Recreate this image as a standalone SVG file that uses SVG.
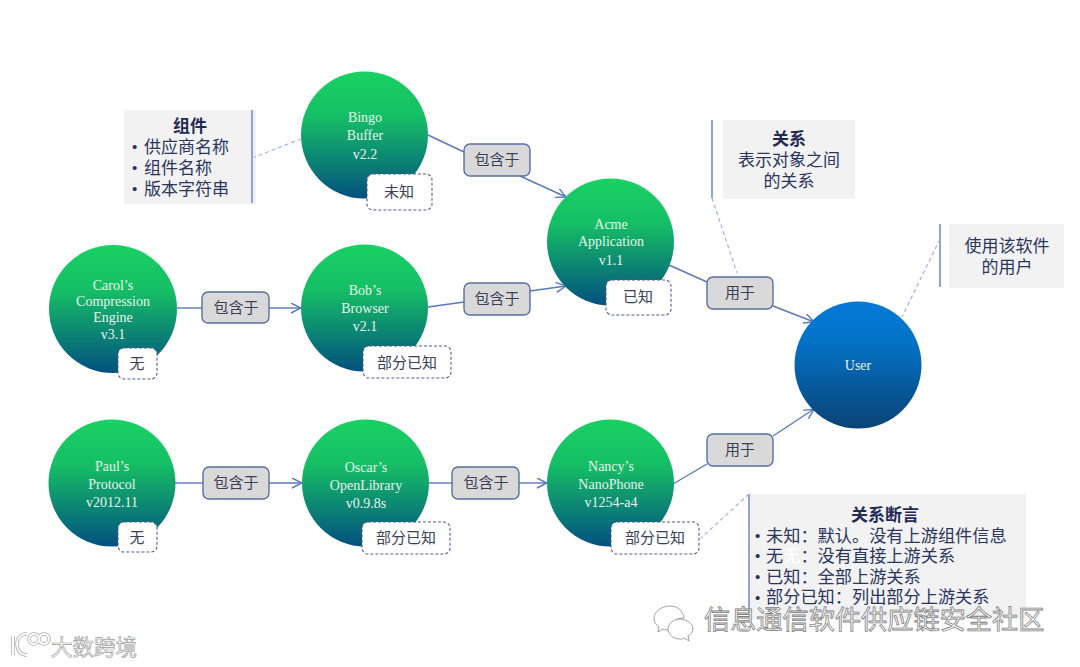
<svg xmlns="http://www.w3.org/2000/svg" width="1080" height="667" viewBox="0 0 1080 667">
<style>
.f{font-family:"Noto Sans CJK SC","Liberation Sans",sans-serif;text-spacing-trim:space-all}
.p{font-family:"Liberation Sans",sans-serif;font-size:15px;fill:#2a3560}
.n{font-family:"Liberation Serif","Times New Roman",serif;font-size:14px;fill:#e4f5ea;text-anchor:middle}
.e{fill:none;stroke:#5b78b8;stroke-width:1.4}
.d{fill:none;stroke:#a4b4dc;stroke-width:1.2;stroke-dasharray:4 3}
.b{fill:none;stroke:#8fa4d2;stroke-width:2}
.lab{fill:#d9d9d9;stroke:#5a6f9f;stroke-width:1.4}
.st{fill:#fff;stroke:#4f5f8f;stroke-width:1.1;stroke-dasharray:3 2}
.t{font-size:15px;fill:#3a4056;text-anchor:middle}
.c{font-size:17px;fill:#2a3560;text-anchor:middle}
.cb{font-size:17px;font-weight:700;fill:#1f2a55;text-anchor:middle}
.l{font-size:17px;fill:#2a3560}
.m{font-size:17.200px;fill:#2a3560}
.box{fill:#f2f2f2}
.wm{fill:#fff;stroke:#8a8a8a;stroke-width:.8}
</style>
<defs>
<linearGradient id="g" x1="0" y1="0" x2="0" y2="1"><stop offset="0" stop-color="#19d163"/><stop offset=".35" stop-color="#16bf66"/><stop offset="1" stop-color="#03507f"/></linearGradient>
<linearGradient id="u" x1="0" y1="0" x2="0" y2="1"><stop offset="0" stop-color="#0479d6"/><stop offset=".3" stop-color="#0473c8"/><stop offset="1" stop-color="#0a4376"/></linearGradient>
<marker id="a" markerWidth="12" markerHeight="12" refX="11" refY="5" orient="auto" markerUnits="userSpaceOnUse"><path d="M1 0L11 5L1 10" fill="none" stroke="#5b78b8" stroke-width="1.4"/></marker>
</defs>
<rect width="1080" height="667" fill="#fff"/>
<g id="note-component"><rect class="box" x="124" y="110" width="132" height="94"/><path class="b" d="M252 110V203"/>
<text class="f cb" x="190" y="132">组件</text>
<text class="p" x="132" y="152">•</text><text class="f l" x="144" y="153">供应商名称</text><text class="p" x="132" y="173">•</text><text class="f l" x="144" y="174">组件名称</text><text class="p" x="132" y="194">•</text><text class="f l" x="144" y="195">版本字符串</text></g>
<g id="note-relation"><rect class="box" x="723" y="120" width="132" height="79"/><path class="b" d="M712 120V198"/>
<text class="f cb" x="789" y="145">关系</text><text class="f c" x="789" y="166">表示对象之间</text><text class="f c" x="789" y="187">的关系</text></g>
<g id="note-user"><rect class="box" x="949" y="224" width="115" height="64"/><path class="b" d="M940 224V287"/>
<text class="f c" x="1007" y="252">使用该软件</text><text class="f c" x="1007" y="273">的用户</text></g>
<g id="note-assertion"><rect class="box" x="749" y="494" width="277" height="125"/><path class="b" d="M749 494V615"/>
<text class="f cb" x="885" y="521">关系断言</text>
<text class="p" x="755" y="541">•</text><text class="f m" x="766" y="542">未知：默认。没有上游组件信息</text>
<text class="p" x="755" y="561">•</text><text class="f m" x="766" y="562">无<tspan fill="#fff">无</tspan>：没有直接上游关系</text>
<text class="p" x="755" y="582">•</text><text class="f m" x="766" y="583">已知：全部上游关系</text>
<text class="p" x="755" y="603">•</text><text class="f m" x="766" y="603">部分已知：列出部分上游关系</text></g>
<g id="connectors">
<path class="e" d="M428 135L464 152"/><path class="e" d="M520 176L566 197" marker-end="url(#a)"/>
<path class="e" d="M177 308H202"/><path class="e" d="M269 308H301" marker-end="url(#a)"/>
<path class="e" d="M428 307L464 302"/><path class="e" d="M530 291L566 286" marker-end="url(#a)"/>
<path class="e" d="M669 265L707 282"/><path class="e" d="M773 306L814 322" marker-end="url(#a)"/>
<path class="e" d="M175 483H203"/><path class="e" d="M269 483H302" marker-end="url(#a)"/>
<path class="e" d="M429 483H452"/><path class="e" d="M519 483H547" marker-end="url(#a)"/>
<path class="e" d="M673 484L707 464"/><path class="e" d="M773 436L814 409" marker-end="url(#a)"/>
<path class="d" d="M252 158L301 139"/>
<path class="d" d="M712 198L737 273"/>
<path class="d" d="M940 239L902 317"/>
<path class="d" d="M749 494L701 538"/>
</g>
<g id="bingo"><circle cx="364.500" cy="135" r="63.500" fill="url(#g)"/><text class="n"><tspan x="365" y="122">Bingo</tspan><tspan x="365" y="140">Buffer</tspan><tspan x="365" y="159">v2.2</tspan></text><rect class="st" x="367" y="174" width="65" height="36" rx="6"/><text class="f t" x="399" y="197">未知</text></g>
<g id="bob"><circle cx="364.500" cy="308" r="63.500" fill="url(#g)"/><text class="n"><tspan x="365" y="295">Bob’s</tspan><tspan x="365" y="313">Browser</tspan><tspan x="365" y="331">v2.1</tspan></text><rect class="st" x="363" y="346" width="88" height="32" rx="6"/><text class="f t" x="407" y="368">部分已知</text></g>
<g id="carol"><circle cx="113" cy="309" r="64" fill="url(#g)"/><text class="n"><tspan x="113" y="290">Carol’s</tspan><tspan x="113" y="306">Compression</tspan><tspan x="113" y="322">Engine</tspan><tspan x="113" y="339">v3.1</tspan></text><rect class="st" x="118" y="348" width="39" height="31" rx="6"/><text class="f t" x="137" y="369">无</text></g>
<g id="acme"><circle cx="610.500" cy="242" r="63.500" fill="url(#g)"/><text class="n"><tspan x="611" y="229">Acme</tspan><tspan x="611" y="246">Application</tspan><tspan x="611" y="265">v1.1</tspan></text><rect class="st" x="606" y="280" width="65" height="35" rx="6"/><text class="f t" x="638" y="302">已知</text></g>
<g id="paul"><circle cx="112" cy="483" r="63.500" fill="url(#g)"/><text class="n"><tspan x="112" y="471">Paul’s</tspan><tspan x="112" y="489">Protocol</tspan><tspan x="112" y="507">v2012.11</tspan></text><rect class="st" x="118" y="522" width="39" height="30" rx="6"/><text class="f t" x="137" y="543">无</text></g>
<g id="oscar"><circle cx="365.500" cy="483" r="63.500" fill="url(#g)"/><text class="n"><tspan x="366" y="472">Oscar’s</tspan><tspan x="366" y="490">OpenLibrary</tspan><tspan x="366" y="508">v0.9.8s</tspan></text><rect class="st" x="362" y="522" width="88" height="32" rx="6"/><text class="f t" x="406" y="543">部分已知</text></g>
<g id="nancy"><circle cx="610.500" cy="483" r="63.500" fill="url(#g)"/><text class="n"><tspan x="611" y="471">Nancy’s</tspan><tspan x="611" y="489">NanoPhone</tspan><tspan x="611" y="507">v1254-a4</tspan></text><rect class="st" x="611" y="522" width="88" height="32" rx="6"/><text class="f t" x="655" y="543">部分已知</text></g>
<g id="user"><circle cx="858" cy="365" r="63.500" fill="url(#u)"/><text class="n" x="858" y="370">User</text></g>
<g id="label-1"><rect class="lab" x="464" y="144" width="66" height="32" rx="6"/><text class="f t" x="497" y="165">包含于</text></g>
<g id="label-2"><rect class="lab" x="202" y="292" width="67" height="31" rx="6"/><text class="f t" x="236" y="313">包含于</text></g>
<g id="label-3"><rect class="lab" x="464" y="283" width="66" height="32" rx="6"/><text class="f t" x="497" y="304">包含于</text></g>
<g id="label-4"><rect class="lab" x="707" y="277" width="66" height="32" rx="6"/><text class="f t" x="740" y="298">用于</text></g>
<g id="label-5"><rect class="lab" x="203" y="467" width="66" height="32" rx="6"/><text class="f t" x="236" y="488">包含于</text></g>
<g id="label-6"><rect class="lab" x="452" y="467" width="67" height="32" rx="6"/><text class="f t" x="486" y="488">包含于</text></g>
<g id="label-7"><rect class="lab" x="707" y="434" width="66" height="32" rx="6"/><text class="f t" x="740" y="455">用于</text></g>
<g id="watermark">
<text class="f" x="704" y="629" font-size="26.200" fill="#fff" stroke="#808080" stroke-width=".8">信息通信软件供应链安全社区</text>
<path class="wm" d="M670 606c-9 0-16 6-16 12 0 4 2 7 5 9l-1 5 5-3c2 1 4 1 6 1 0-7 7-12 15-12-1-7-6-12-14-12z"/>
<path class="wm" d="M680 619c-7 0-12 5-12 10s5 10 12 10c2 0 3 0 4-1l5 3-1-5c3-2 5-4 5-7 0-5-6-10-13-10z"/>
<text class="f" x="51" y="655" font-size="21.500" fill="#fff" stroke="#a0a0a0" stroke-width=".7">大数跨境</text>
<g fill="none"><path d="M13 636v19M27 634c-7 0-10 5-10 10s3 11 10 11M34 634a5 5 0 1 0 .1 0M44 634a5 5 0 1 0 .1 0" stroke="#a8a8a8" stroke-width="3.400"/><path d="M13 636v19M27 634c-7 0-10 5-10 10s3 11 10 11M34 634a5 5 0 1 0 .1 0M44 634a5 5 0 1 0 .1 0" stroke="#fff" stroke-width="2"/></g>
</g>
</svg>
